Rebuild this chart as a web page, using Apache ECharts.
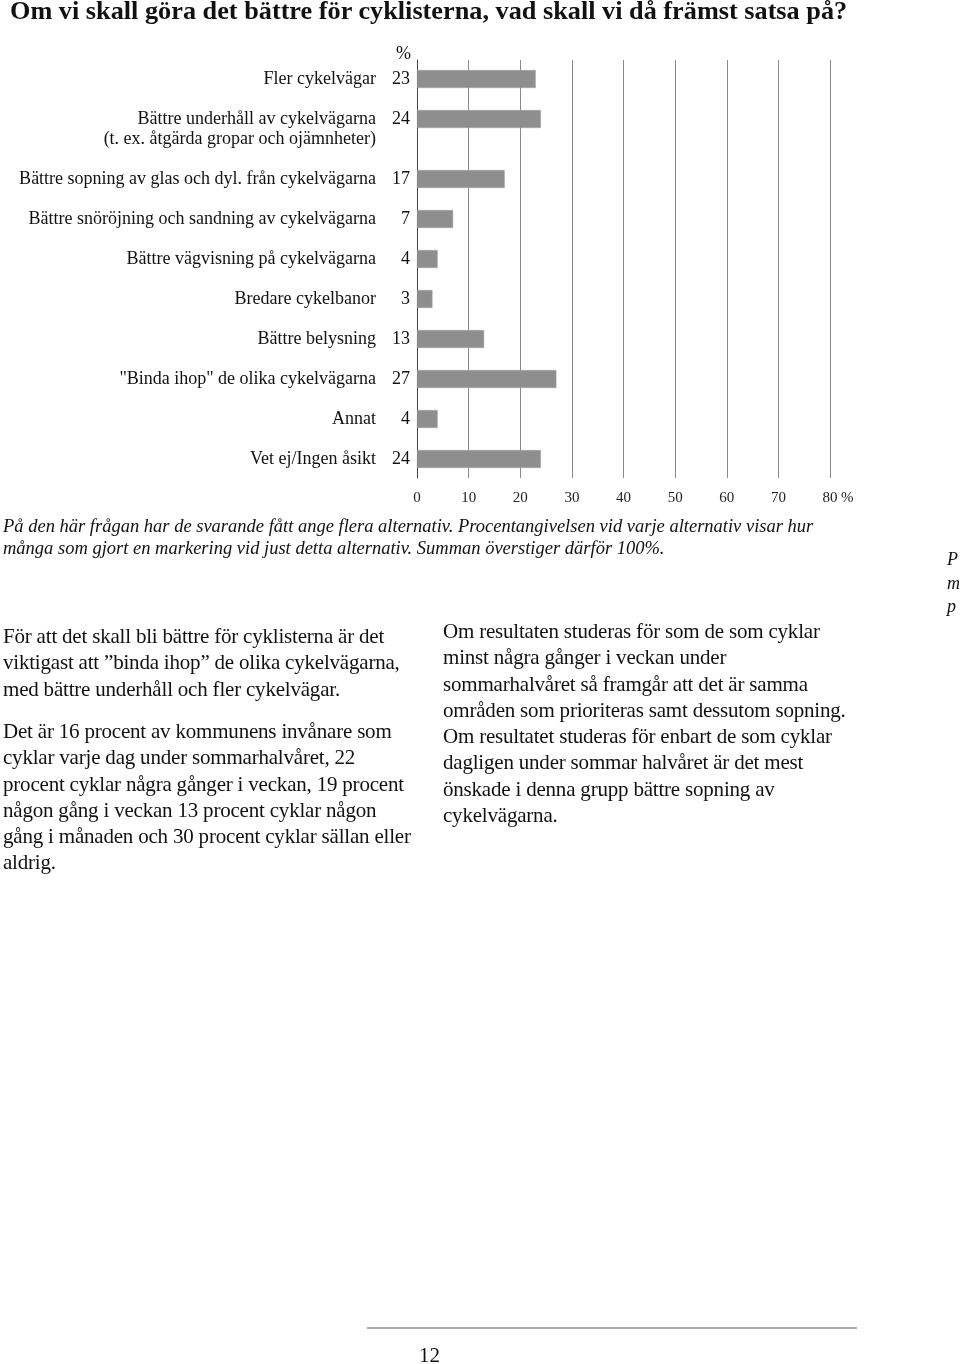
<!DOCTYPE html>
<html>
<head>
<meta charset="utf-8">
<script src="https://cdn.jsdelivr.net/npm/echarts@6/dist/echarts.min.js"></script>
<style>
  html, body { margin: 0; padding: 0; background: #fff; }
  #page { position: relative; width: 960px; height: 1364px; overflow: hidden; background: #fff; }
  #chart { position: absolute; left: 0; top: 0; width: 960px; height: 1364px; }
  .t { position: absolute; font-family: "Liberation Serif", "DejaVu Serif", serif; color: #111; white-space: nowrap; }
  #title { left: 10px; top: -3px; font-size: 26px; line-height: 28px; font-weight: bold; transform-origin: 0 0; transform: scaleX(1.01); }
  #note { left: 3px; top: 515px; font-size: 18.5px; line-height: 22px; font-style: italic; }
  .para { font-size: 21px; line-height: 26.3px; letter-spacing: -0.2px; }
  #p1 { left: 3px; top: 623px; }
  #p2 { left: 3px; top: 718px; }
  #p3 { left: 443px; top: 618px; }
  #pagenum { left: 419px; top: 1343px; font-size: 21px; line-height: 24px; }
  #footline { position: absolute; left: 367px; top: 1327px; width: 490px; height: 0; border-top: 2px solid #aaa; }
  #edge { left: 947px; top: 548px; font-size: 18px; line-height: 23.5px; font-style: italic; }
</style>
</head>
<body>
<div id="page">
  <div id="chart"></div>
  <div class="t" id="title">Om vi skall göra det bättre för cyklisterna, vad skall vi då främst satsa på?</div>
  <div class="t" id="note">På den här frågan har de svarande fått ange flera alternativ. Procentangivelsen vid varje alternativ visar hur<br>många som gjort en markering vid just detta alternativ. Summan överstiger därför 100%.</div>
  <div class="t para" id="p1">För att det skall bli bättre för cyklisterna är det<br>viktigast att ”binda ihop” de olika cykelvägarna,<br>med bättre underhåll och fler cykelvägar.</div>
  <div class="t para" id="p2">Det är 16 procent av kommunens invånare som<br>cyklar varje dag under sommarhalvåret, 22<br>procent cyklar några gånger i veckan, 19 procent<br>någon gång i veckan 13 procent cyklar någon<br>gång i månaden och 30 procent cyklar sällan eller<br>aldrig.</div>
  <div class="t para" id="p3">Om resultaten studeras för som de som cyklar<br>minst några gånger i veckan under<br>sommarhalvåret så framgår att det är samma<br>områden som prioriteras samt dessutom sopning.<br>Om resultatet studeras för enbart de som cyklar<br>dagligen under sommar halvåret är det mest<br>önskade i denna grupp bättre sopning av<br>cykelvägarna.</div>
  <div id="footline"></div>
  <div class="t" id="pagenum">12</div>
  <div class="t" id="edge">P<br>m<br>p</div>
</div>
<script>
// ---- data ----
const categories = [
  "Fler cykelvägar",
  "Bättre underhåll av cykelvägarna\n(t. ex. åtgärda gropar och ojämnheter)",
  "Bättre sopning av glas och dyl. från cykelvägarna",
  "Bättre snöröjning och sandning av cykelvägarna",
  "Bättre vägvisning på cykelvägarna",
  "Bredare cykelbanor",
  "Bättre belysning",
  "\"Binda ihop\" de olika cykelvägarna",
  "Annat",
  "Vet ej/Ingen åsikt"
];
const values = [23, 24, 17, 7, 4, 3, 13, 27, 4, 24];
const xTicks = [0, 10, 20, 30, 40, 50, 60, 70, 80];
const unitLabel = "%";

// ---- build slot layout (spacer rows between bars; an extra one after a two-line label) ----
const slotNames = [];
const slotValues = [];
const slotItem = [];
categories.forEach((c, i) => {
  slotNames.push("c" + i);
  slotValues.push(values[i]);
  slotItem.push(i);
  if (i < categories.length - 1) {
    const extra = c.indexOf("\n") >= 0 ? 2 : 1;
    for (let k = 0; k < extra; k++) {
      slotNames.push("s" + i + "_" + k);
      slotValues.push(null);
      slotItem.push(-1);
    }
  }
});

const FONT = '"Liberation Serif", "DejaVu Serif", serif';
const chart = echarts.init(document.getElementById('chart'), null, { renderer: 'canvas' });

chart.setOption({
  animation: false,
  grid: [
    { left: 417, right: 130, top: 69, height: 400, containLabel: false },
    { left: 417, right: 130, top: 60, height: 418, containLabel: false }
  ],
  xAxis: [
    { gridIndex: 0, type: 'value', min: 0, max: 80, show: false },
    {
      gridIndex: 1, type: 'value', min: xTicks[0], max: xTicks[xTicks.length - 1], interval: 10,
      axisLine: { show: false }, axisTick: { show: false },
      splitLine: { show: true, lineStyle: { color: '#8a8a8a', width: 1 } },
      axisLabel: {
        margin: 13, fontFamily: FONT, fontSize: 15, color: '#222',
        formatter: v => v === xTicks[xTicks.length - 1] ? '{pad|}' + v + '{u|' + unitLabel + '}' : String(v),
        rich: {
          pad: { width: 16 },
          u: { width: 16, align: 'right', fontFamily: FONT, fontSize: 15, color: '#222' }
        }
      }
    }
  ],
  yAxis: [
    {
      gridIndex: 0, type: 'category', inverse: true, data: slotNames,
      axisLine: { show: false }, axisTick: { show: false }, splitLine: { show: false },
      axisLabel: {
        interval: 0, margin: 7, lineHeight: 20,
        formatter: (val, idx) => {
          const it = slotItem[idx];
          if (it < 0) return '';
          const lines = categories[it].split('\n');
          let s = '{n|' + lines[0] + '}{v|' + values[it] + '}';
          if (lines.length > 1) {
            s = '{n| }{v|}\n' + s;
            for (let k = 1; k < lines.length; k++) s += '\n{n|' + lines[k] + '}{v|}';
          }
          return s;
        },
        rich: {
          n: { fontFamily: FONT, fontSize: 18, color: '#111', lineHeight: 20 },
          v: { fontFamily: FONT, fontSize: 18, color: '#111', width: 34, align: 'right', lineHeight: 20 }
        }
      }
    },
    {
      gridIndex: 1, type: 'value', min: 0, max: 1,
      axisLine: { show: true, lineStyle: { color: '#444', width: 1 } },
      axisTick: { show: false }, axisLabel: { show: false }, splitLine: { show: false }
    }
  ],
  graphic: [
    { type: 'text', left: 396, top: 45, style: { text: unitLabel, fontFamily: FONT, fontSize: 18, fill: '#111' } }
  ],
  series: [
    {
      type: 'bar', xAxisIndex: 0, yAxisIndex: 0, data: slotValues, barWidth: 18,
      itemStyle: { color: '#8e8e8e', borderColor: '#a5a5a5', borderWidth: 0.5 }
    }
  ]
});
</script>
</body>
</html>
